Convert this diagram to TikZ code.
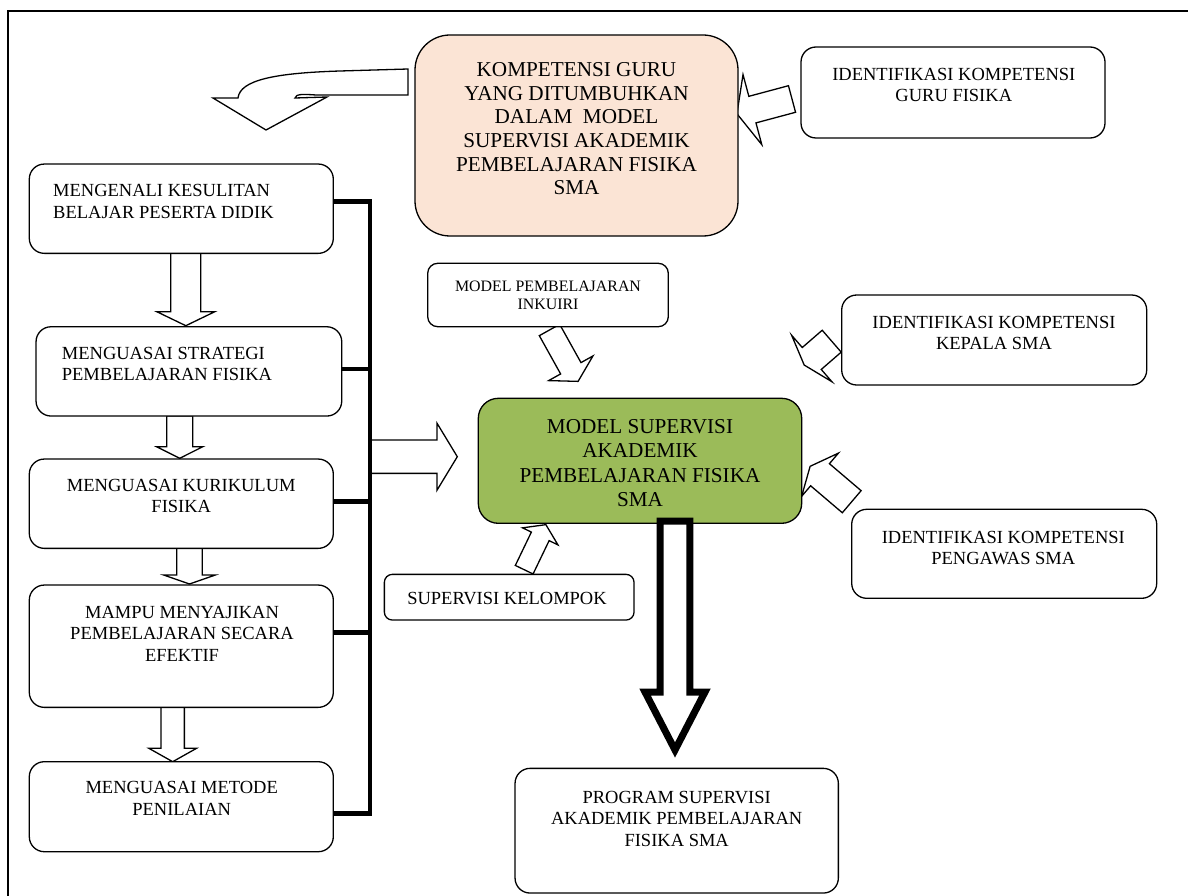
\documentclass[tikz,border=0pt]{standalone}
\usepackage{fontspec}
\setmainfont{Liberation Serif}
\usetikzlibrary{calc}
\definecolor{peach}{HTML}{FBE4D5}
\definecolor{olivegreen}{HTML}{9BBB59}
\tikzset{
  box/.style={draw=black, line width=1.3pt, fill=white, rounded corners=15pt, inner sep=0pt},
  ntxt/.style={inner sep=0pt, font=\fontsize{18.5}{21.5}\selectfont, align=center},
  btxt/.style={inner sep=0pt, font=\fontsize{21.2}{23.6}\selectfont, align=center},
  stxt/.style={inner sep=0pt, font=\fontsize{15.9}{17.6}\selectfont, align=center},
  barrow/.style={draw=black, line width=1.3pt, fill=white, line join=miter},
  bigarrow/.style={draw=black, line width=7pt, fill=white, line join=miter},
  bracketline/.style={line width=4.5pt, line join=miter},
  frameline/.style={line width=1.3pt},
}
% block arrow: [style] tail-x tail-y angle length shaftwidth headwidth headlength
\newcommand\blockarrow[8][]{%
  \begin{scope}[shift={(#2,#3)},rotate=#4]
    \draw[barrow,#1] (0,{-(#6)/2}) -- ({#5-#8},{-(#6)/2}) -- ({#5-#8},{-(#7)/2}) -- (#5,0)
      -- ({#5-#8},{(#7)/2}) -- ({#5-#8},{(#6)/2}) -- (0,{(#6)/2}) -- cycle;
  \end{scope}}
\begin{document}
\begin{tikzpicture}[x=1pt,y=-1pt]
\useasboundingbox (0,0) rectangle (1188,896);
% frame
\draw[frameline] (8,896) -- (8,11) -- (1188,11);

% ---- arrows drawn beneath the boxes ----
% curved arrow from KOMPETENSI box
\draw[barrow] (408,69) -- (340,71) .. controls (275,73) and (240,80) .. (238,98)
  -- (213,98) -- (266,130) -- (327,97) -- (295,98) .. controls (296,94) and (302,94) .. (316,95)
  -- (408,95) -- cycle;
% from IDENTIFIKASI GURU to KOMPETENSI
\blockarrow{792}{99}{195}{57}{27.5}{72.5}{16}
% INKUIRI to MODEL
\blockarrow{549.5}{330}{-60.9}{58.8}{23.3}{50.7}{15}
% KEPALA to MODEL
\blockarrow{831.7}{341.2}{220.9}{36.4}{29}{61.5}{10}
% PENGAWAS to MODEL
\blockarrow{851.7}{501.7}{139.6}{54.6}{29}{56.8}{13}
% KELOMPOK to MODEL
\blockarrow{524.2}{569.7}{64.3}{50}{19.7}{39.3}{13}
% bracket to MODEL
\blockarrow{370}{456.7}{0}{87.3}{33.3}{67}{20.3}
% left column down arrows
\blockarrow{185.8}{253.3}{-90}{72.4}{30}{58}{14}
\blockarrow{179.7}{416}{-90}{42.3}{26}{46.3}{11.6}
\blockarrow{189.5}{548.3}{-90}{35.7}{25.6}{51.7}{9}
\blockarrow{172.7}{707.3}{-90}{54.4}{23.3}{47.7}{13.4}

% ---- boxes ----
\node[box, fill=peach, rounded corners=35pt, minimum width=323pt, minimum height=201pt] (komp) at (576.5,135.5) {};
\node[btxt, anchor=north] (kompt) at (576.5,62.5) {KOMPETENSI GURU\\YANG DITUMBUHKAN\\DALAM\ \ MODEL\\SUPERVISI AKADEMIK\\PEMBELAJARAN FISIKA\\SMA};

\node[box, minimum width=304pt, minimum height=91pt] (guru) at (953,92.5) {};
\node[ntxt, anchor=north] (gurut) at (953.8,68) {IDENTIFIKASI KOMPETENSI\\GURU FISIKA};

\node[box, minimum width=304pt, minimum height=89.3pt] (b1) at (181.3,208.7) {};
\node[ntxt, align=left, anchor=north west] (b1t) at (53,184.5) {MENGENALI KESULITAN\\BELAJAR PESERTA DIDIK};

\node[box, minimum width=305.7pt, minimum height=89.3pt] (b2) at (188.9,371.4) {};
\node[ntxt, align=left, anchor=north west] (b2t) at (61.7,347) {MENGUASAI STRATEGI\\PEMBELAJARAN FISIKA};

\node[box, minimum width=304pt, minimum height=89.3pt] (b3) at (181.3,503.7) {};
\node[ntxt, anchor=north] (b3t) at (181.3,479) {MENGUASAI KURIKULUM\\FISIKA};

\node[box, minimum width=304pt, minimum height=122.3pt] (b4) at (181.3,646.2) {};
\node[ntxt, anchor=north] (b4t) at (182,605.6) {MAMPU MENYAJIKAN\\PEMBELAJARAN SECARA\\EFEKTIF};

\node[box, minimum width=304pt, minimum height=90pt] (b5) at (181.3,806.7) {};
\node[ntxt, anchor=north] (b5t) at (181.7,781.2) {MENGUASAI METODE\\PENILAIAN};

\node[box, rounded corners=10pt, minimum width=240.6pt, minimum height=63.4pt] (inq) at (548,295) {};
\node[stxt, anchor=north] (inqt) at (548,281.2) {MODEL PEMBELAJARAN\\INKUIRI};

\node[box, minimum width=305pt, minimum height=90pt] (kep) at (994.2,340) {};
\node[ntxt, anchor=north] (kept) at (994,315.6) {IDENTIFIKASI KOMPETENSI\\KEPALA SMA};

\node[box, fill=olivegreen, rounded corners=20pt, minimum width=323.4pt, minimum height=125pt] (model) at (640,460.8) {};
\node[btxt, font=\fontsize{21.2}{24.4}\selectfont, anchor=north] (modelt) at (640,419) {MODEL SUPERVISI\\AKADEMIK\\PEMBELAJARAN FISIKA\\SMA};

\node[box, minimum width=305pt, minimum height=89pt] (peng) at (1004.2,553.8) {};
\node[ntxt, anchor=north] (pengt) at (1003.3,530.6) {IDENTIFIKASI KOMPETENSI\\PENGAWAS SMA};

\node[box, rounded corners=8pt, minimum width=249.7pt, minimum height=45.7pt] (kel) at (509.2,597.2) {};
\node[ntxt, anchor=north] (kelt) at (507,591.8) {SUPERVISI KELOMPOK};

\node[box, minimum width=323.3pt, minimum height=124.7pt] (prog) at (676.7,830.7) {};
\node[ntxt, anchor=north] (progt) at (676.7,790.6) {PROGRAM SUPERVISI\\AKADEMIK PEMBELAJARAN\\FISIKA SMA};

% ---- big output arrow ----
\blockarrow[bigarrow]{675}{521}{-90}{229}{29.6}{60}{58}

% ---- bracket ----
\coordinate (j1) at (370,201.7);
\coordinate (j2) at (370,369);
\coordinate (j3) at (370,501.7);
\coordinate (j4) at (370,632.7);
\coordinate (j5) at (370,813.3);
\draw[bracketline] (b1.east|-j1) -- (j1) -- (j5) -- (b5.east|-j5);
\draw[bracketline] (b2.east|-j2) -- (j2);
\draw[bracketline] (b3.east|-j3) -- (j3);
\draw[bracketline] (b4.east|-j4) -- (j4);
\end{tikzpicture}
\end{document}
